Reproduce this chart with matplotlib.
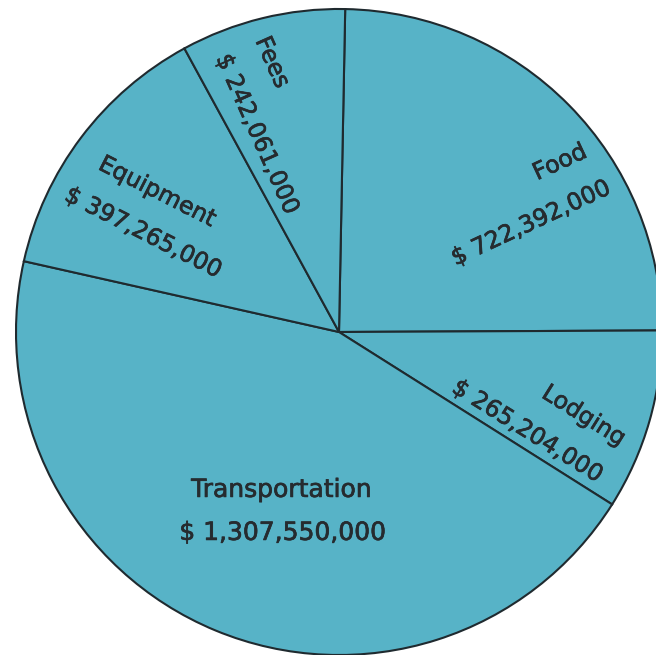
import numpy as np
import matplotlib
matplotlib.use("Agg")
import matplotlib.pyplot as plt
import matplotlib.patheffects as pe

# ---- data ----
categories = ["Food", "Lodging", "Transportation", "Equipment", "Fees"]
values = [722392000, 265204000, 1307550000, 397265000, 242061000]
value_labels = ["$ 722,392,000", "$ 265,204,000", "$ 1,307,550,000",
                "$ 397,265,000", "$ 242,061,000"]

# ---- style / layout ----
W, H = 656, 655
CX, CY, R = 339, 332, 323          # pie centre & radius in pixels
FILL = "#57b3c7"
EDGE = "#1f2a2f"
TXT = "#262b2f"
GAP = 43 / R                        # line gap in data units

# label placement: (radius, angle deg, rotation deg, ha, fontsize, title shift along baseline)
label_style = {
    "Food":           (0.948, 27.0, 25, "right", 17, -6),
    "Lodging":        (0.925, -30.3, -32, "right", 17, 0),
    "Transportation": (0.667, 254.8, 0, "center", 18, -1),
    "Equipment":      (0.680, 154.9, -27, "center", 17, -6),
    "Fees":           (0.930, 114.2, -66, "left", 17, 0),
}

fig = plt.figure(figsize=(W / 100, H / 100), dpi=100)
fig.patch.set_facecolor("white")
ax = fig.add_axes([0, 0, 1, 1])

ax.pie(values, startangle=88.9, counterclock=False, radius=1.0,
       colors=[FILL] * len(values),
       wedgeprops=dict(edgecolor=EDGE, linewidth=1.5))

ax.set_xlim(-CX / R, (W - CX) / R)
ax.set_ylim(-(H - CY) / R, CY / R)
ax.set_aspect("auto")
ax.axis("off")

thick = [pe.withStroke(linewidth=0.5, foreground=TXT)]

for cat, vtxt in zip(categories, value_labels):
    r, ang, rot, ha, fs, shift = label_style[cat]
    a = np.deg2rad(ang)
    x0, y0 = r * np.cos(a), r * np.sin(a)
    t = np.deg2rad(rot)
    ux, uy = -np.sin(t), np.cos(t)       # "up" direction of rotated text
    bx, by = np.cos(t), np.sin(t)        # baseline direction
    ax.text(x0, y0, vtxt, rotation=rot, rotation_mode="anchor",
            ha=ha, va="baseline", fontsize=fs, color=TXT,
            family="DejaVu Sans", path_effects=thick)
    s = shift / R
    ax.text(x0 + GAP * ux + s * bx, y0 + GAP * uy + s * by, cat,
            rotation=rot, rotation_mode="anchor",
            ha=ha, va="baseline", fontsize=fs, color=TXT,
            family="DejaVu Sans", path_effects=thick)

fig.savefig("out.png", dpi=100, facecolor="white")
